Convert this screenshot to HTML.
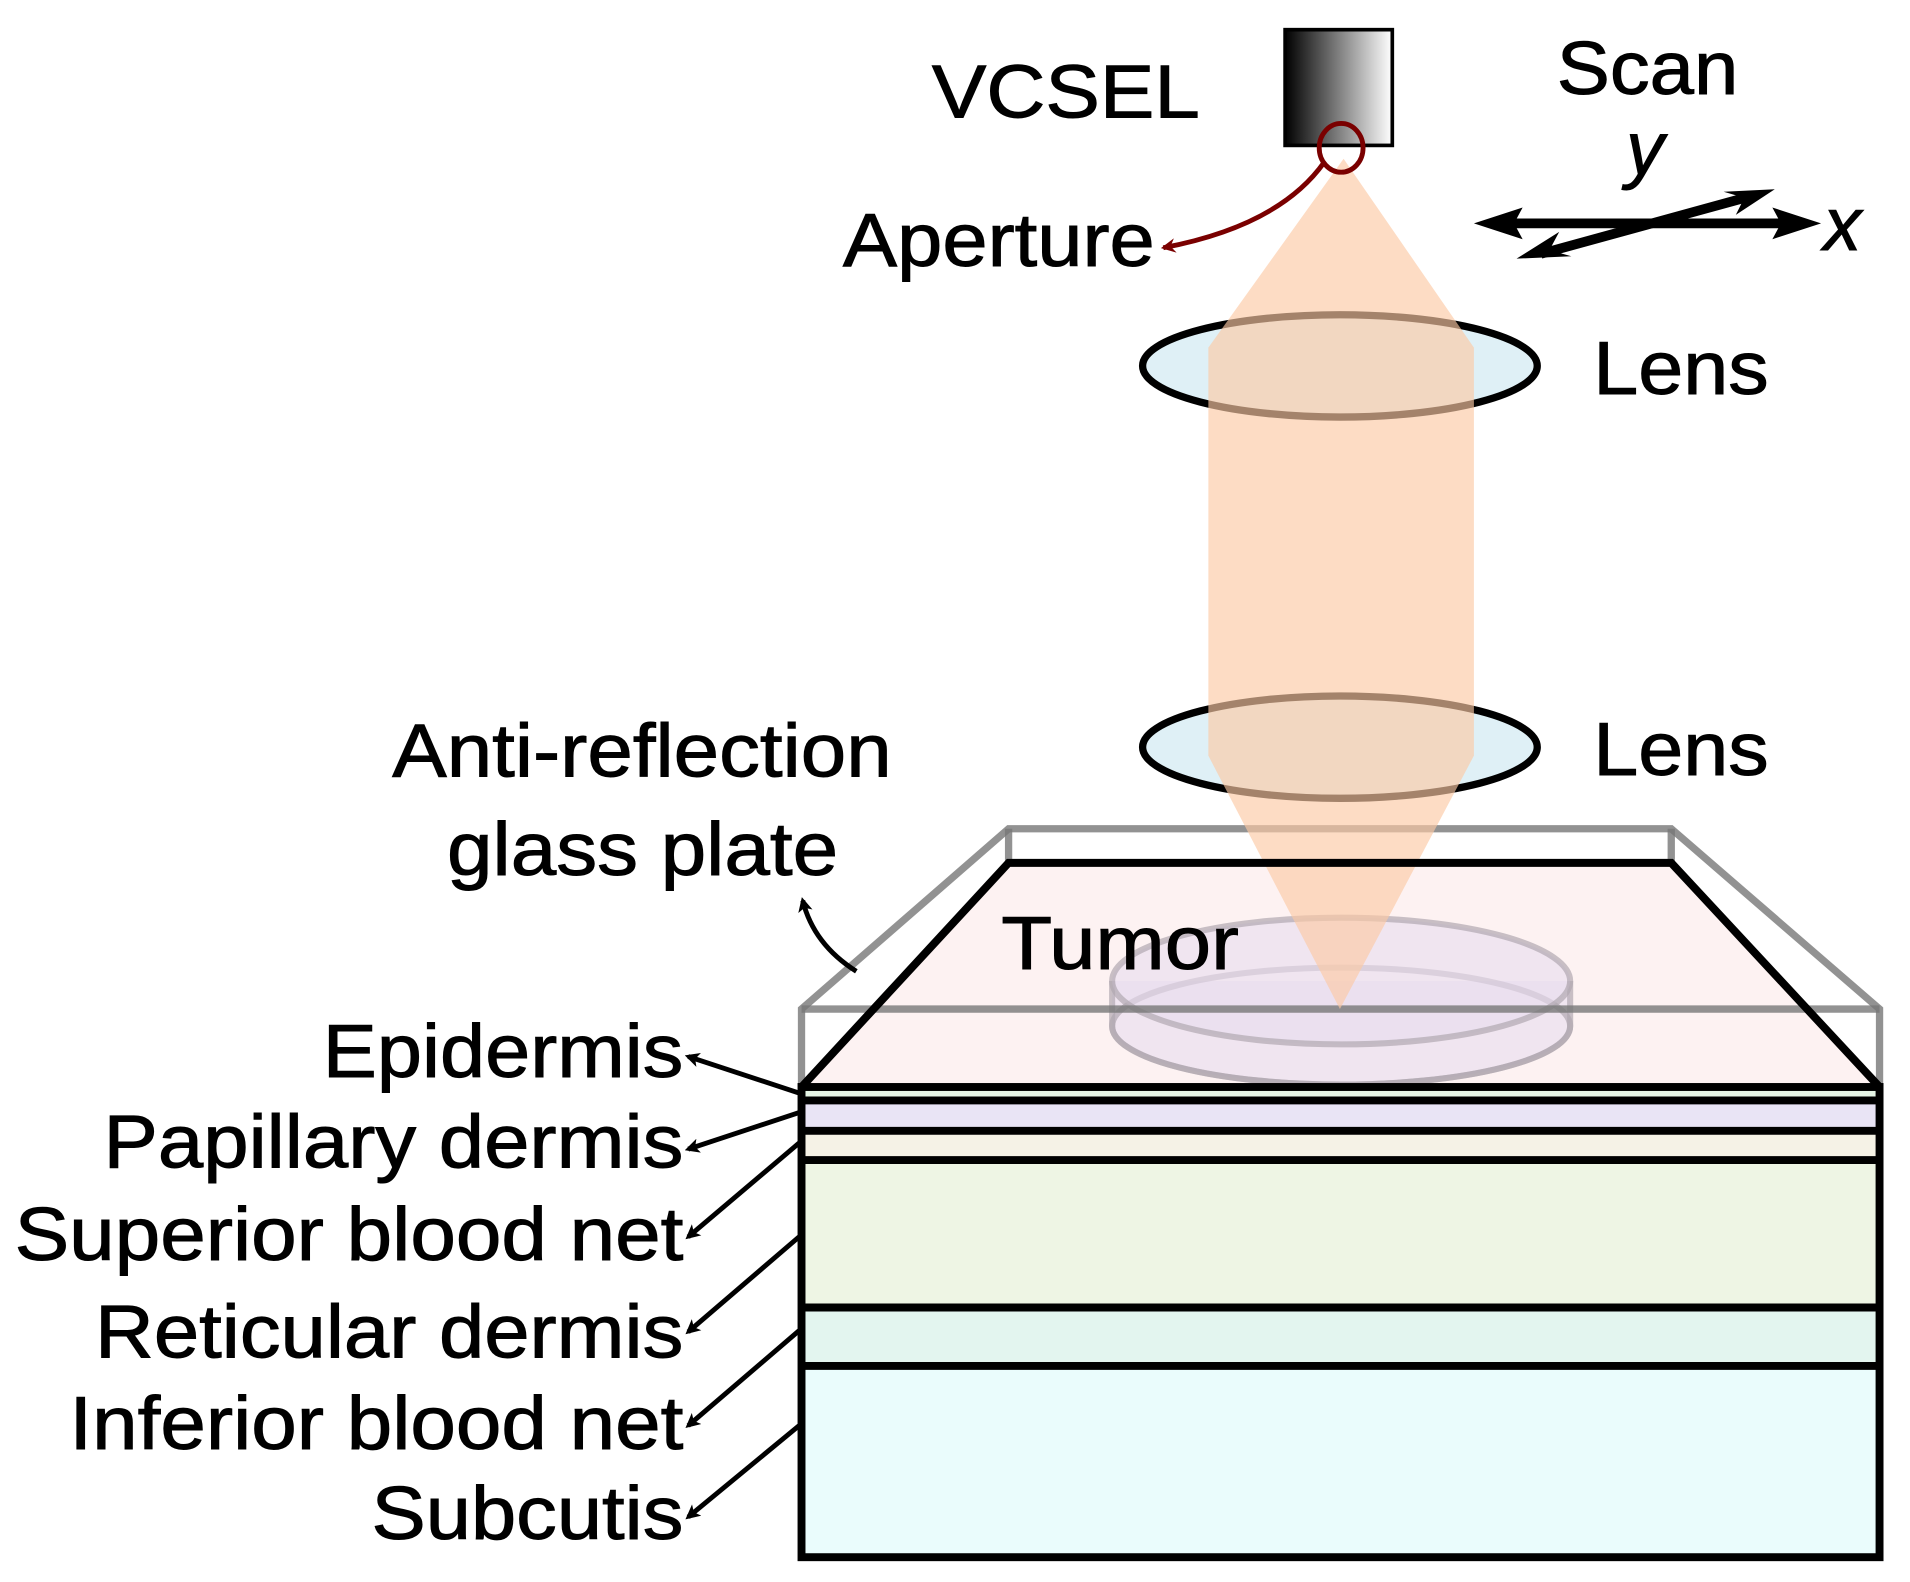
<!DOCTYPE html>
<html><head><meta charset="utf-8"><style>html,body{margin:0;padding:0;background:#fff}svg{display:block}text{font-family:"Liberation Sans",sans-serif;fill:#000;stroke:#000;stroke-width:0.8}</style></head><body>
<svg width="1910" height="1582" viewBox="0 0 1568 1298" xmlns="http://www.w3.org/2000/svg">
<defs>
<linearGradient id="g" x1="0" x2="1"><stop offset="0" stop-color="#000"/><stop offset="1" stop-color="#fff"/></linearGradient>
<marker id="a" markerWidth="12" markerHeight="12" refX="9" refY="6" orient="auto" markerUnits="userSpaceOnUse"><path d="M0,0 L12,6 L0,12 L3,6z" fill="#000"/></marker>
<marker id="r" markerWidth="12" markerHeight="12" refX="10" refY="6" orient="auto" markerUnits="userSpaceOnUse"><path d="M0,0 L12,6 L0,12 L4,6z" fill="#7a0000"/></marker>
</defs>
<rect x="658" y="892" width="885" height="11" fill="#e6f5e6"/>
<rect x="658" y="903" width="885" height="25" fill="#e9e4f5"/>
<rect x="658" y="928" width="885" height="24" fill="#f5f2e6"/>
<rect x="658" y="952" width="885" height="121" fill="#eef5e4"/>
<rect x="658" y="1073" width="885" height="48" fill="#e3f5ef"/>
<rect x="658" y="1121" width="885" height="157" fill="#eafcfc"/>
<polygon points="828,708 1372,708 1543,892 658,892" fill="#fdf2f2"/>
<g fill="#e8dcef" fill-opacity="0.6" stroke="#b0a8b0" stroke-width="5" stroke-opacity="0.7">
<path d="M913,805 L913,842 A188,48 0 0 0 1289,842 L1289,805" />
<ellipse cx="1101" cy="842" rx="188" ry="48" fill="none"/>
<ellipse cx="1101" cy="805" rx="188" ry="52"/>
</g>
<g stroke="#777" stroke-opacity="0.8" stroke-width="6" fill="none">
<polyline points="658,892 658,828 828,680 1372,680 1543,828 1543,892"/>
<line x1="828" y1="680" x2="828" y2="708"/>
<line x1="1372" y1="680" x2="1372" y2="708"/>
<line x1="658" y1="828" x2="1543" y2="828"/>
</g>
<ellipse cx="1100" cy="300" rx="162" ry="42" fill="#dff0f6" stroke="#000" stroke-width="6"/>
<ellipse cx="1100" cy="613" rx="162" ry="42" fill="#dff0f6" stroke="#000" stroke-width="6"/>
<polygon points="1103,130 992,285 992,620 1100,828 1210,620 1210,285" fill="#fcc9a4" fill-opacity="0.65"/>
<g stroke="#000" stroke-width="6.5" fill="none">
<polyline points="658,892 828,708 1372,708 1543,892"/>
<rect x="658" y="892" width="885" height="386"/>
<line x1="658" y1="903" x2="1543" y2="903"/>
<line x1="658" y1="928" x2="1543" y2="928"/>
<line x1="658" y1="952" x2="1543" y2="952"/>
<line x1="658" y1="1073" x2="1543" y2="1073"/>
<line x1="658" y1="1121" x2="1543" y2="1121"/>
</g>
<rect x="1055" y="24" width="88" height="95" fill="url(#g)" stroke="#000" stroke-width="3"/>
<ellipse cx="1101" cy="121" rx="18" ry="20" fill="none" stroke="#7a0000" stroke-width="4"/>
<path d="M1087,133 Q1050,185 955,203" fill="none" stroke="#7a0000" stroke-width="4" marker-end="url(#r)"/>
<g stroke="#000" stroke-width="8" fill="none">
<line x1="1225" y1="183" x2="1480" y2="183"/>
<line x1="1265" y1="208" x2="1440" y2="160"/>
</g>
<path d="M1210,183 L1250,170 L1243,183 L1250,196z M1495,183 L1455,170 L1462,183 L1455,196z M1245,212 L1280,190 L1272,205 L1290,210z M1457,155 L1425,176 L1432,162 L1415,157z" fill="#000"/>
<g font-size="62">
<text x="765" y="96" textLength="220" lengthAdjust="spacingAndGlyphs">VCSEL</text>
<text x="1278" y="77" textLength="149" lengthAdjust="spacingAndGlyphs">Scan</text>
<text x="1335" y="143" font-style="italic">y</text>
<text x="1497" y="205" font-style="italic">x</text>
<text x="692" y="218" textLength="256" lengthAdjust="spacingAndGlyphs">Aperture</text>
<text x="1308" y="323" textLength="144" lengthAdjust="spacingAndGlyphs">Lens</text>
<text x="1308" y="636" textLength="144" lengthAdjust="spacingAndGlyphs">Lens</text>
<text x="322" y="637" textLength="410" lengthAdjust="spacingAndGlyphs">Anti-reflection</text>
<text x="367" y="718" textLength="321" lengthAdjust="spacingAndGlyphs">glass plate</text>
<text x="822" y="795" textLength="195" lengthAdjust="spacingAndGlyphs">Tumor</text>
<text x="265" y="884" textLength="296" lengthAdjust="spacingAndGlyphs">Epidermis</text>
<text x="85" y="958" textLength="476" lengthAdjust="spacingAndGlyphs">Papillary dermis</text>
<text x="12" y="1034" textLength="549" lengthAdjust="spacingAndGlyphs">Superior blood net</text>
<text x="78" y="1114" textLength="483" lengthAdjust="spacingAndGlyphs">Reticular dermis</text>
<text x="57" y="1189" textLength="504" lengthAdjust="spacingAndGlyphs">Inferior blood net</text>
<text x="305" y="1263" textLength="256" lengthAdjust="spacingAndGlyphs">Subcutis</text>
</g>
<g stroke="#000" stroke-width="4" fill="none" marker-end="url(#a)">
<path d="M703,797 Q668,775 659,739"/>
<line x1="656" y1="897" x2="565" y2="867"/>
<line x1="656" y1="913" x2="565" y2="943"/>
<line x1="656" y1="938" x2="565" y2="1015"/>
<line x1="656" y1="1015" x2="565" y2="1093"/>
<line x1="656" y1="1092" x2="565" y2="1170"/>
<line x1="656" y1="1170" x2="565" y2="1245"/>
</g>
</svg>
</body></html>
